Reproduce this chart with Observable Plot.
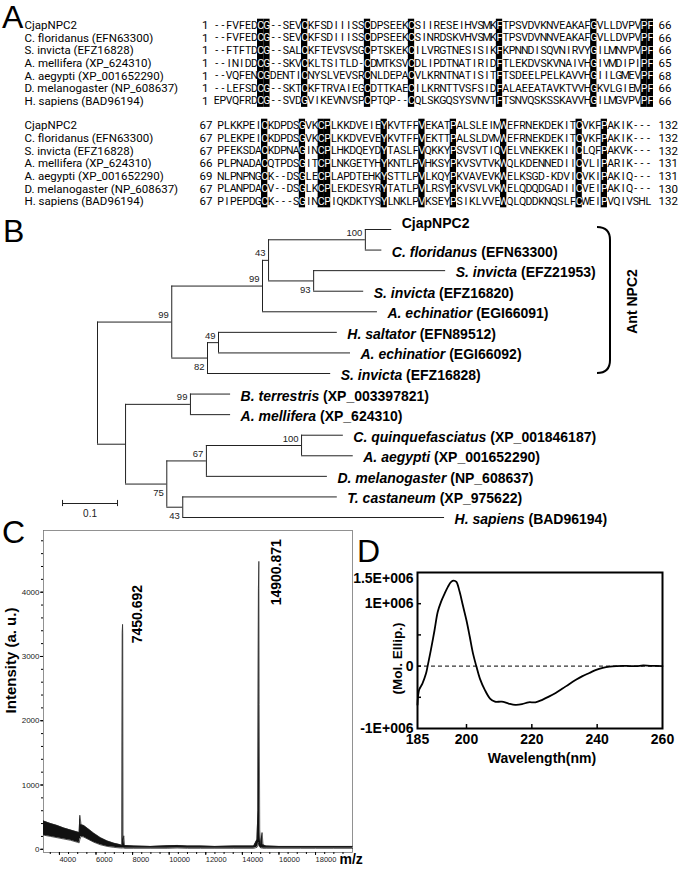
<!DOCTYPE html>
<html><head><meta charset="utf-8">
<script src="https://cdn.jsdelivr.net/npm/d3@7"></script>
<script src="https://cdn.jsdelivr.net/npm/@observablehq/plot@0.6"></script>
<style>
html,body{margin:0;padding:0;background:#fff;}
#fig{position:relative;width:680px;height:870px;overflow:hidden;font-family:"Liberation Sans",Arial,sans-serif;}
#fig svg{position:absolute;left:0;top:0;}
.plab{position:absolute;font-size:32px;line-height:32px;font-family:"Liberation Sans",Arial,sans-serif;color:#000;}
</style></head><body><div id="fig"></div>
<script>
// ================= DATA =================
// Panel A: alignment
const alignNames = ["CjapNPC2","C. floridanus (EFN63300)","S. invicta (EFZ16828)","A. mellifera (XP_624310)","A. aegypti (XP_001652290)","D. melanogaster (NP_608637)","H. sapiens (BAD96194)"];
const block1Seqs = [
"--FVFEDCG--SEVCKFSDIIISSCDPSEEKCSIIRESEIHVSMKFTPSVDVKNVEAKAFGVLLDVPVPF",
"--FVFEDCG--SEVCKFSDIIISSCDPSEEKCSINRDSKVHVSMKFTPSVDVNNVEAKAFGVLLDVPVPF",
"--FTFTDCG--SALCKFTEVSVSGCPTSKEKCILVRGTNESISIKFKPNNDISQVNIRVYGILMNVPVPF",
"--INIDDCG--SKVCKLTSITLD-CDMTKSVCDLIPDTNATIRIDFTLEKDVSKVNAIVHGIVMDIPIPF",
"--VQFENCGDENTICNYSLVEVSRCNLDEPACVLKRNTNATISITFTSDEELPELKAVVHGIILGMEVPF",
"--LEFSDCG--SKTCKFTRVAIEGCDTTKAECILKRNTTVSFSIDFALAEEATAVKTVVHGKVLGIEMPF",
"EPVQFRDCG--SVDGVIKEVNVSPCPTQP--CQLSKGQSYSVNVTFTSNVQSKSSKAVVHGILMGVPVPF"];
const block1Start = [1,1,1,1,1,1,1];
const block1End = [66,66,66,65,68,66,66];
const block1Conserved = [8,9,15,25,32,46,61,69,70];
const block2Seqs = [
"PLKKPEICKDPDSGVKCPLKKDVEIEYKVTFFVEKATPALSLEIMWEFRNEKDEKITCVKFPAKIK---",
"PLEKPEICKDPDSGVKCPLKKDVEVEYKVTFFVEKTTPALSLDVMWEFRNEKDEKITCVKFPAKIK---",
"PFEKSDACKDPNAGINCPLHKDQEYDYTASLFVQKKYPSVSVTIQVELVNEKKEKIICLQFPAKVK---",
"PLPNADACQTPDSGITCPLNKGETYHYKNTLPVHKSYPKVSVTVKWQLKDENNEDIICVLIPARIK---",
"NLPNPNGCK--DSGLECPLAPDTEHKYSTTLPVLKQYPKVAVEVKWELKSGD-KDVICVKIPAKIQ---",
"PLANPDACV--DSGLKCPLEKDESYRYTATLPVLRSYPKVSVLVKWELQDQDGADIICVEIPAKIQ---",
"PIPEPDGCK---SGINCPIQKDKTYSYLNKLPVKSEYPSIKLVVEWQLQDDKNQSLFCWEIPVQIVSHL"];
const block2Start = [67,67,67,66,69,67,67];
const block2End = [132,132,132,131,131,130,132];
const block2Conserved = [8,14,17,18,27,33,38,46,58,62];

// Panel B: tree (branch lengths, substitutions/site)
const treeIds     = ["root","ant","antA","antA1","cjapPair","t0","t1","sinvPair","t2","t3","t4","antB","antB1","t5","t6","t7","other","bees","t8","t9","o75","o67","mosq","t10","t11","t12","o43","t13","t14"];
const treeParents = [null,"root","ant","antA","antA1","cjapPair","cjapPair","antA1","sinvPair","sinvPair","antA","ant","antB","antB1","antB1","antB","root","other","bees","bees","other","o75","o67","mosq","mosq","o67","o75","o43","o43"];
const treeBranch  = [0,0.135,0.165,0.011,0.176,0.048,0.030,0.082,0.240,0.091,0.209,0.065,0.020,0.216,0.240,0.224,0.051,0.118,0.073,0.073,0.075,0.072,0.173,0.076,0.094,0.220,0.029,0.281,0.476];
const treeSupport = [null,99,99,43,100,null,null,93,null,null,null,82,49,null,null,null,null,99,null,null,75,67,100,null,null,null,43,null,null];
const supportBelow = ["sinvPair","antB","o75","o43"];
const leafIds = ["t0","t1","t2","t3","t4","t5","t6","t7","t8","t9","t10","t11","t12","t13","t14"];
const leafSpecies = ["CjapNPC2","C. floridanus","S. invicta","S. invicta","A. echinatior","H. saltator","A. echinatior","S. invicta","B. terrestris","A. mellifera","C. quinquefasciatus","A. aegypti","D. melanogaster","T. castaneum","H. sapiens"];
const leafAccession = ["","(EFN63300)","(EFZ21953)","(EFZ16820)","(EGI66091)","(EFN89512)","(EGI66092)","(EFZ16828)","(XP_003397821)","(XP_624310)","(XP_001846187)","(XP_001652290)","(NP_608637)","(XP_975622)","(BAD96194)"];
const cladeLabel = "Ant NPC2";
const cladeNode = "ant";
const scaleBarLength = 0.1;

// Panel C: MALDI spectrum (noise envelope)
const msMz   = [3130,3514,3878,4242,4607,4971,5080,5115,5188,5334,5607,5880,6245,6610,6974,7339,7420,7440,7450.7,7462,7480,7520,7560,8068,9000,9889,10435,11000,11710,12500,13530,14623,14800,14850,14880,14900.9,14920,14950,15000,15080,15130,15300,16000,17171,18000,18992,20020];
const msLow  = [220,200,180,160,140,110,100,150,200,190,150,110,70,45,30,20,20,20,20,20,20,20,15,15,15,15,20,15,15,15,15,15,30,50,100,100,60,40,20,20,15,15,15,15,15,15,15];
const msHigh = [440,400,370,330,300,270,260,530,380,370,310,250,180,130,95,70,60,3370,3500,3360,150,210,60,50,45,55,60,50,50,45,50,50,150,600,4060,4480,2250,300,80,260,70,50,45,45,45,45,45];
const msPeakLabels = ["7450.692","14900.871"];
const msPeakMz = [7450.692,14900.871];
const msPeakInt = [3500,4480];
const msXTicks = [4000,6000,8000,10000,12000,14000,16000,18000];
const msYTicks = [0,1000,2000,3000,4000];

// Panel D: CD spectrum (x 1E+006)
const cdNm    = [185,185.5,186.5,187.6,188.1,189.1,190.2,191.2,192.2,193.3,194.3,195.3,196.1,196.9,197.9,198.9,200,201,202,203,204.1,205.6,207.2,208.7,210.8,212.9,214.9,217,219,221.1,223.2,225.2,227.3,229.4,231.4,233.5,235.5,237.6,239.7,241.7,243.8,245.9,247.9,250,252,254.1,256.2,260];
const cdEllip = [-0.62,-0.38,-0.28,-0.12,0,0.26,0.57,0.87,1.03,1.16,1.27,1.35,1.37,1.35,1.19,0.97,0.73,0.47,0.20,0,-0.2,-0.38,-0.52,-0.57,-0.57,-0.6,-0.62,-0.61,-0.58,-0.58,-0.54,-0.49,-0.43,-0.36,-0.29,-0.22,-0.16,-0.11,-0.06,-0.03,-0.01,0,0.005,0,0,0.01,0.005,0];
const cdXTicks = [185,200,220,240,260];
const cdYTicks = [-1,0,1];
const cdYTopTick = [1.5];

// ================= RENDER =================
const fig = document.getElementById("fig");
const W = 680, H = 870;
const baseStyle = {fontFamily: "'Liberation Sans', Arial, sans-serif", background: "transparent", overflow: "visible"};
const seqFont = "'Liberation Sans Narrow', 'Arial Narrow', Roboto, sans-serif";

function alignmentPlot(seqs, starts, ends, conserved, top, left, right, rowH) {
  const n = seqs.length, L = seqs[0].length;
  const cells = [];
  seqs.forEach((s, r) => { for (let c = 1; c <= L; c++) cells.push({r, c, ch: s[c-1], hl: conserved.includes(c)}); });
  const rows = seqs.map((s, r) => ({r, name: alignNames[r], start: starts[r], end: ends[r]}));
  const fs = 11.5, fsSeq = 10.5;
  return Plot.plot({
    width: W, height: H,
    marginLeft: left, marginRight: W - right, marginTop: top, marginBottom: H - top - n * rowH,
    x: {domain: [0.5, L + 0.5], axis: null},
    y: {domain: [n - 0.5, -0.5], axis: null},
    style: baseStyle,
    marks: [
      Plot.rect(conserved, {x1: c => c - 0.5, x2: c => c + 0.5, y1: -0.5, y2: n - 0.5, fill: "black"}),
      Plot.text(cells.filter(d => !d.hl), {x: "c", y: "r", text: "ch", fill: "black", fontSize: fsSeq, fontFamily: seqFont}),
      Plot.text(cells.filter(d => d.hl), {x: "c", y: "r", text: "ch", fill: "white", fontSize: fsSeq, fontFamily: seqFont}),
      Plot.text(rows, {y: "r", text: "name", frameAnchor: "left", textAnchor: "start", dx: 24 - left, fontSize: fs, fontFamily: seqFont}),
      Plot.text(rows, {y: "r", text: d => String(d.start), frameAnchor: "left", textAnchor: "end", dx: -5, fontSize: fs, fontFamily: seqFont}),
      Plot.text(rows, {y: "r", text: d => String(d.end), frameAnchor: "right", textAnchor: "start", dx: 658 - right, fontSize: fs, fontFamily: seqFont})
    ]
  });
}
fig.appendChild(alignmentPlot(block1Seqs, block1Start, block1End, block1Conserved, 18.7, 213, 653, 12.6));
fig.appendChild(alignmentPlot(block2Seqs, block2Start, block2End, block2Conserved, 118.7, 217, 651, 12.66));

// ---- Tree ----
const nodes = treeIds.map((id, i) => ({id, parent: treeParents[i], len: treeBranch[i], support: treeSupport[i], children: []}));
const byId = new Map(nodes.map(d => [d.id, d]));
nodes.forEach(d => { if (d.parent) byId.get(d.parent).children.push(d); });
const root = byId.get("root");
(function setDepth(d, base) { d.x = base + d.len; d.children.forEach(c => setDepth(c, d.x)); })(root, 0);
leafIds.forEach((id, i) => { const d = byId.get(id); d.y = i; d.leaf = i; });
(function setY(d) { if (d.children.length) { d.children.forEach(setY); d.ymin = d.children[0].y; d.ymax = d.children[d.children.length - 1].y; d.y = (d.ymin + d.ymax) / 2; } })(root);
const nonRoot = nodes.filter(d => d.parent);
const internal = nodes.filter(d => d.children.length);
const supported = internal.filter(d => d.support != null);
const leaves = leafIds.map((id, i) => ({...byId.get(id), label: leafSpecies[i] + (leafAccession[i] ? " " + leafAccession[i] : ""), i}));
function cladeLeaves(d) { return d.children.length ? d.children.flatMap(cladeLeaves) : [d]; }
const antLeaves = cladeLeaves(byId.get(cladeNode));
const antMid = d3.mean(antLeaves, d => d.y);
const sbStart = -0.0636, sbY = 13.32;
const treePlot = Plot.plot({
  width: W, height: H,
  marginLeft: 97, marginRight: 33, marginTop: 229, marginBottom: 353,
  x: {domain: [0, 1], axis: null},
  y: {domain: [14, 0], axis: null},
  style: baseStyle,
  marks: [
    Plot.ruleY(nonRoot, {y: "y", x1: d => byId.get(d.parent).x, x2: "x", stroke: "#222", strokeWidth: 1}),
    Plot.ruleX(internal, {x: "x", y1: "ymin", y2: "ymax", stroke: "#222", strokeWidth: 1}),
    Plot.text(supported.filter(d => !supportBelow.includes(d.id)), {x: "x", y: "y", text: d => String(d.support), textAnchor: "end", dx: -3, dy: -7, fontSize: 9.5, fill: "#222"}),
    Plot.text(supported.filter(d => supportBelow.includes(d.id)), {x: "x", y: "y", text: d => String(d.support), textAnchor: "end", dx: -3, dy: 9, fontSize: 9.5, fill: "#222"}),
    Plot.text(leaves.filter(d => d.i === 0), {x: "x", y: "y", text: "label", textAnchor: "start", dx: 10, dy: -6, fontSize: 14, fontWeight: "bold"}),
    Plot.text(leaves.filter(d => d.i > 0), {x: "x", y: "y", text: "label", textAnchor: "start", dx: 10, dy: 2, fontSize: 14, fontWeight: "bold"}),
    Plot.ruleY([sbY], {x1: sbStart, x2: sbStart + scaleBarLength, stroke: "#222"}),
    Plot.ruleX([sbStart, sbStart + scaleBarLength], {y1: sbY - 0.15, y2: sbY + 0.15, stroke: "#222"}),
    Plot.text([String(scaleBarLength)], {x: () => sbStart + scaleBarLength / 2, y: () => sbY, text: d => d, dy: 10, fontSize: 10, fill: "#222"}),
    Plot.text([cladeLabel], {y: () => antMid, text: d => d, frameAnchor: "right", textAnchor: "middle", dx: -15, rotate: -90, fontSize: 14, fontWeight: "bold"})
  ]
});
// italic species names
d3.select(treePlot).selectAll("text").each(function() {
  const t = this.textContent;
  const i = leaves.findIndex(l => l.label === t);
  if (i >= 0 && leafAccession[i]) {
    this.textContent = "";
    const sel = d3.select(this);
    sel.append("tspan").attr("font-style", "italic").text(leafSpecies[i]);
    sel.append("tspan").text(" " + leafAccession[i]);
  }
});
// bracket around ant clade
{
  const ys = treePlot.scale("y");
  const top = ys.apply(antLeaves[0].y) - 2, bot = ys.apply(antLeaves[antLeaves.length - 1].y);
  const bx = 610, lx = 597;
  d3.select(treePlot).append("path")
    .attr("d", `M${lx},${top} Q${bx},${top} ${bx},${top + 13} L${bx},${bot - 13} Q${bx},${bot} ${lx},${bot}`)
    .attr("fill", "none").attr("stroke", "black").attr("stroke-width", 2);
}
fig.appendChild(treePlot);

// ---- Panel C ----
const ms = msMz.map((mz, i) => ({mz, lo: msLow[i], hi: msHigh[i]}));
const peaks = msPeakMz.map((mz, i) => ({mz, int: msPeakInt[i], label: msPeakLabels[i]}));
const msPlot = Plot.plot({
  width: W, height: H,
  marginLeft: 43, marginRight: 328, marginTop: 530, marginBottom: 18,
  x: {domain: [3130, 20020]},
  y: {domain: [-50, 4960]},
  style: baseStyle,
  marks: [
    Plot.frame({stroke: "#777", strokeWidth: 0.8}),
    Plot.areaY(ms, {x: "mz", y1: "lo", y2: "hi", fill: "#111"}),
    Plot.lineY(ms, {x: "mz", y: "hi", stroke: "#222", strokeWidth: 0.7}),
    Plot.lineY(ms, {x: "mz", y: "lo", stroke: "#111", strokeWidth: 0.7}),
    Plot.axisY({ticks: msYTicks, tickSize: 3, tickPadding: 1, fontSize: 8, fill: "#222", tickFormat: d => String(d), label: null}),
    Plot.axisY({ticks: d3.range(0, 4900, 200), tickSize: 2, tickFormat: () => "", label: null}),
    Plot.axisX({ticks: msXTicks, tickSize: 3, tickPadding: 1, fontSize: 7.5, fill: "#222", textAnchor: "start", tickFormat: d => String(d), label: null}),
    Plot.axisX({ticks: d3.range(3500, 20000, 500), tickSize: 2, tickFormat: () => "", label: null}),
    Plot.text(peaks.slice(0, 1), {x: "mz", y: "int", text: "label", rotate: -90, textAnchor: "start", dx: 15, dy: 19, fontSize: 14, fontWeight: "bold"}),
    Plot.text(peaks.slice(1, 2), {x: "mz", y: "int", text: "label", rotate: -90, textAnchor: "start", dx: 17.6, dy: 44, fontSize: 14, fontWeight: "bold"}),
    Plot.text(["Intensity (a. u.)"], {text: d => d, frameAnchor: "left", textAnchor: "middle", dx: -32, dy: -31, rotate: -90, fontSize: 15, fontWeight: "bold"}),
    Plot.text(["m/z"], {text: d => d, frameAnchor: "bottom-right", textAnchor: "start", dx: -13, dy: 11, fontSize: 14, fontWeight: "bold"})
  ]
});
fig.appendChild(msPlot);

// ---- Panel D ----
const cd = cdNm.map((nm, i) => ({nm, v: cdEllip[i]}));
const cdFmt = d => d === 0 ? "0" : d + "E+006";
const cdPlot = Plot.plot({
  width: W, height: H,
  marginLeft: 417, marginRight: 18, marginTop: 572, marginBottom: 142,
  x: {domain: [185, 260]},
  y: {domain: [-1, 1.5]},
  style: baseStyle,
  marks: [
    Plot.ruleY([0], {stroke: "black", strokeDasharray: "4,3", strokeWidth: 1}),
    Plot.ruleY([-0.5, 0, 0.5, 1], {insetRight: 241, stroke: "black", strokeWidth: 1.5}),
    Plot.ruleX([200, 220, 240], {insetTop: 152, stroke: "black", strokeWidth: 1.5}),
    Plot.line(cd, {x: "nm", y: "v", stroke: "black", strokeWidth: 1.8, curve: "catmull-rom"}),
    Plot.frame({stroke: "black", strokeWidth: 2}),
    Plot.axisY({ticks: cdYTicks, tickSize: 0, tickPadding: 4, tickFormat: cdFmt, fontSize: 14, fontWeight: "bold", label: null}),
    Plot.axisY({ticks: cdYTopTick, tickSize: 0, tickPadding: 4, tickFormat: cdFmt, fontSize: 14, fontWeight: "bold", dy: 6, label: null}),
    Plot.axisX({ticks: cdXTicks, tickSize: 0, tickPadding: 6, tickFormat: d => String(d), fontSize: 14, fontWeight: "bold", label: null}),
    Plot.text(["Wavelength(nm)"], {text: d => d, frameAnchor: "bottom", textAnchor: "middle", dx: 2, dy: 34, fontSize: 14, fontWeight: "bold"}),
    Plot.text(["(Mol. Ellip.)"], {text: d => d, frameAnchor: "left", textAnchor: "middle", dx: -20, dy: 8, rotate: -90, fontSize: 13.5, fontWeight: "bold"})
  ]
});
fig.appendChild(cdPlot);

// ---- Panel letters ----
[["A", 2, 1], ["B", 3, 215], ["C", 2, 516], ["D", 357, 535]].forEach(([t, x, y]) => {
  const d = document.createElement("div");
  d.className = "plab"; d.textContent = t;
  d.style.left = x + "px"; d.style.top = y + "px";
  fig.appendChild(d);
});
</script></body></html>
